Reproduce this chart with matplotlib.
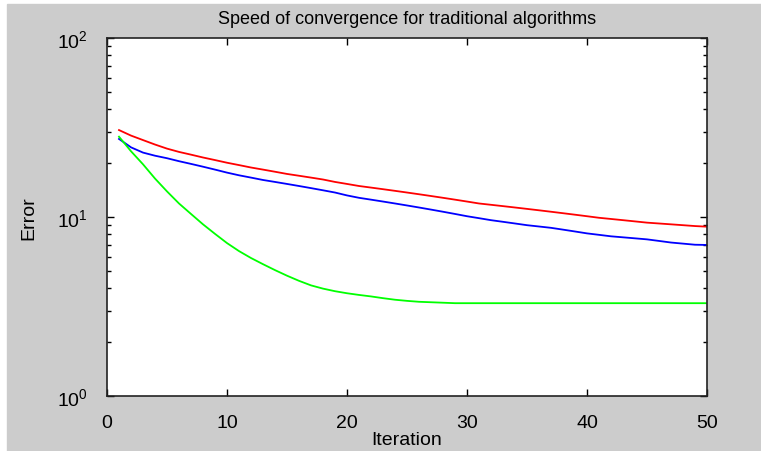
import matplotlib.pyplot as plt
from matplotlib.patches import Rectangle

# error per iteration (log scale)
iterations = list(range(1, 51))
red_error = [30.6, 28.5, 26.9, 25.4, 24.1, 23.1, 22.3, 21.5, 20.8, 20.1,
             19.5, 18.9, 18.4, 17.9, 17.4, 17.0, 16.6, 16.2, 15.7, 15.3,
             14.9, 14.6, 14.3, 14.0, 13.7, 13.4, 13.1, 12.8, 12.5, 12.2,
             11.9, 11.7, 11.5, 11.3, 11.1, 10.9, 10.7, 10.5, 10.3, 10.1,
             9.9, 9.75, 9.6, 9.45, 9.3, 9.2, 9.1, 9.0, 8.9, 8.83]
blue_error = [27.3, 24.5, 22.9, 22.0, 21.3, 20.5, 19.8, 19.1, 18.4, 17.7,
              17.1, 16.6, 16.1, 15.7, 15.3, 14.9, 14.5, 14.1, 13.7, 13.2,
              12.8, 12.5, 12.2, 11.9, 11.6, 11.3, 11.0, 10.7, 10.4, 10.1,
              9.85, 9.6, 9.4, 9.2, 9.0, 8.85, 8.7, 8.5, 8.3, 8.1,
              7.95, 7.8, 7.7, 7.6, 7.5, 7.35, 7.2, 7.1, 7.0, 6.98]
green_error = [28.1, 23.3, 19.7, 16.4, 13.9, 11.9, 10.4, 9.1, 8.05, 7.15,
               6.45, 5.9, 5.45, 5.05, 4.7, 4.4, 4.15, 3.98, 3.85, 3.75,
               3.67, 3.6, 3.52, 3.45, 3.4, 3.36, 3.34, 3.32, 3.3, 3.3,
               3.3, 3.3, 3.3, 3.3, 3.3, 3.3, 3.3, 3.3, 3.3, 3.3,
               3.3, 3.3, 3.3, 3.3, 3.3, 3.3, 3.3, 3.3, 3.3, 3.3]
x_ticks = [0, 10, 20, 30, 40, 50]

plt.rcParams['font.family'] = ['Liberation Sans', 'DejaVu Sans']
plt.rcParams['mathtext.fontset'] = 'custom'
plt.rcParams['mathtext.rm'] = 'Liberation Sans'

fig = plt.figure(figsize=(7.61, 4.52), dpi=100, facecolor='white')
# grey window area, thin white strip left and top like the screenshot
fig.patches.append(Rectangle((7 / 761, 0), 1, (452 - 5) / 452,
                             transform=fig.transFigure, color='#cccccc', zorder=-1))
ax = fig.add_axes([107 / 761, 55 / 452, 600 / 761, 358 / 452])

ax.plot(iterations, red_error, color='#ff0000', lw=1.3)
ax.plot(iterations, blue_error, color='#0000ff', lw=1.3)
ax.plot(iterations, green_error, color='#00ff00', lw=1.3)

ax.set_yscale('log')
ax.set_xlim(0, 50)
ax.set_ylim(1, 100)
ax.set_xticks(x_ticks)
ax.tick_params(which='both', direction='in', top=True, right=True, labelsize=14)
ax.tick_params(axis='x', pad=13)
ax.tick_params(axis='y', pad=14)
ax.tick_params(which='major', length=5, width=1)
ax.tick_params(which='minor', length=3, width=1)
for s in ax.spines.values():
    s.set_linewidth(1.2)
    s.set_color('#222222')

ax.set_title("Speed of convergence for traditional algorithms", fontsize=13, pad=11)
ax.set_xlabel("Iteration", fontsize=14, labelpad=0)
ax.set_ylabel("Error", fontsize=14, labelpad=14)

fig.savefig("out.png", dpi=100, facecolor=fig.get_facecolor())
